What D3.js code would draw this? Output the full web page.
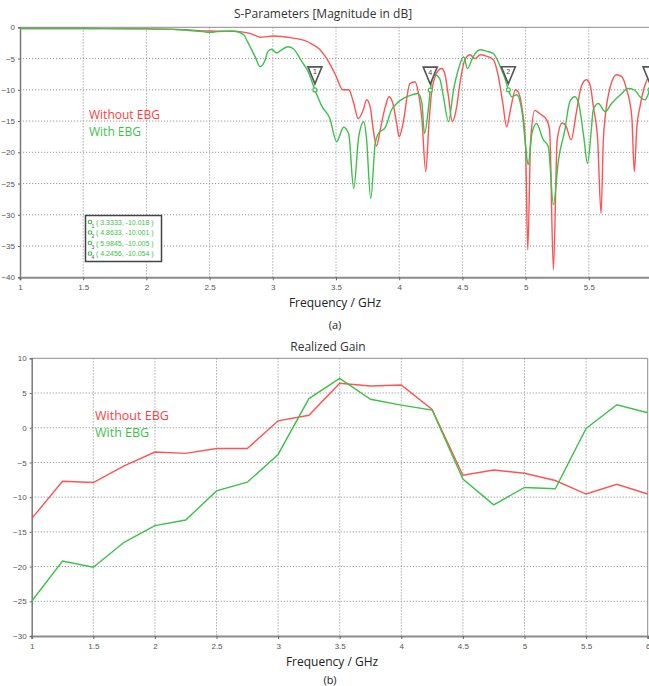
<!DOCTYPE html>
<html>
<head>
<meta charset="utf-8">
<script src="https://cdn.jsdelivr.net/npm/d3@7"></script>
<style>
  body { margin: 0; background: #fff; }
  svg { display: block; }
</style>
</head>
<body>
<div class="vis-area"></div>
<script>
var width = 649;
var height = 686;

var redColor = '#ff4040';
var greenColor = '#3cc24a';

// S-parameters, without EBG
var sFreqWithout = [1.0, 1.5, 2.0, 2.3, 2.5, 2.7, 2.8, 2.85, 2.9, 2.95, 3.0, 3.15, 3.25, 3.32, 3.37, 3.41, 3.45, 3.5,
  3.555, 3.6, 3.637, 3.676, 3.716, 3.742, 3.77, 3.795, 3.82, 3.85, 3.89, 3.92, 3.95, 3.98, 4.0, 4.03, 4.085, 4.125,
  4.15, 4.18, 4.21, 4.235, 4.255, 4.295, 4.335, 4.36, 4.39, 4.42, 4.455, 4.48, 4.52, 4.56, 4.6, 4.64, 4.69, 4.745,
  4.78, 4.82, 4.85, 4.88, 4.92, 4.94, 4.97, 5.0, 5.017, 5.04, 5.074, 5.11, 5.167, 5.19, 5.22, 5.25, 5.29, 5.32,
  5.36, 5.4, 5.44, 5.48, 5.51, 5.536, 5.57, 5.597, 5.615, 5.63, 5.67, 5.72, 5.76, 5.8, 5.84, 5.86, 5.88, 5.905,
  5.945, 5.98, 6.0];
var sDbWithout = [-0.2, -0.2, -0.25, -0.4, -0.6, -0.65, -0.9, -1.2, -1.6, -1.5, -1.4, -1.7, -2.1, -2.8, -3.5, -4.5, -5.8, -7.8,
  -10.0, -10.0, -11.9, -14.6, -13.2, -11.6, -12.7, -16.4, -19.0, -16.4, -12.7, -11.1, -12.2, -15.4, -17.5, -15.4, -9.0, -8.7,
  -10.3, -14.8, -23.1, -15.5, -10.6, -7.4, -6.6, -7.4, -11.1, -15.1, -12.7, -9.0, -5.2, -4.4, -5.0, -4.4, -4.6, -5.2,
  -7.4, -12.2, -15.9, -13.2, -10.0, -10.3, -12.7, -19.1, -35.6, -18.0, -13.3, -13.8, -14.8, -16.4, -38.8, -18.0, -15.3, -15.8,
  -18.0, -13.8, -9.5, -8.4, -9.2, -12.7, -18.0, -29.8, -18.0, -14.3, -9.5, -7.6, -7.9, -10.0, -14.3, -23.1, -16.0, -12.7,
  -9.2, -7.8, -7.5];

// S-parameters, with EBG
var sFreqWith = [1.0, 1.5, 2.0, 2.27, 2.45, 2.5, 2.56, 2.69, 2.77, 2.8, 2.86, 2.9, 2.94, 2.96, 2.99, 3.03, 3.07, 3.12,
  3.16, 3.23, 3.28, 3.3333, 3.39, 3.45, 3.505, 3.56, 3.6, 3.64, 3.68, 3.72, 3.74, 3.775, 3.81, 3.835, 3.89, 3.94,
  3.98, 4.03, 4.1, 4.15, 4.18, 4.2, 4.23, 4.2456, 4.28, 4.32, 4.35, 4.39, 4.43, 4.47, 4.51, 4.54, 4.585, 4.64,
  4.69, 4.745, 4.8, 4.84, 4.8633, 4.89, 4.93, 4.956, 4.98, 5.0, 5.02, 5.05, 5.086, 5.14, 5.18, 5.22, 5.26, 5.31,
  5.35, 5.39, 5.42, 5.46, 5.49, 5.52, 5.535, 5.575, 5.63, 5.68, 5.75, 5.81, 5.86, 5.905, 5.945, 5.9845, 6.0];
var sDbWith = [-0.2, -0.2, -0.25, -0.4, -0.7, -0.8, -0.7, -0.6, -1.2, -2.3, -4.7, -6.3, -5.2, -3.9, -3.5, -4.1, -3.6, -3.1,
  -3.4, -5.5, -7.1, -10.0, -12.7, -14.5, -18.3, -16.0, -17.0, -25.8, -17.5, -15.1, -17.5, -27.4, -18.6, -17.0, -16.0, -13.2,
  -12.2, -11.4, -10.8, -10.6, -12.2, -17.0, -13.2, -10.05, -7.6, -8.2, -11.1, -15.1, -10.0, -6.6, -4.7, -6.6, -4.7, -3.6,
  -3.8, -4.2, -6.3, -8.4, -10.0, -11.1, -10.8, -11.9, -14.8, -19.0, -22.0, -17.0, -15.4, -18.0, -19.1, -28.4, -21.2, -16.5,
  -11.9, -11.1, -12.2, -17.5, -21.8, -16.4, -13.2, -12.2, -13.5, -12.2, -10.8, -9.8, -10.0, -11.1, -11.6, -10.0, -9.5];

// markers on the with-EBG curve
var markerIds = [1, 2, 3, 4];
var markerFreq = [3.3333, 4.8633, 5.9845, 4.2456];
var markerDb = [-10.018, -10.001, -10.005, -10.054];

// Realized gain
var gainFreq = [1.0, 1.25, 1.5, 1.75, 2.0, 2.25, 2.5, 2.75, 3.0, 3.25, 3.5, 3.75, 4.0, 4.25, 4.5, 4.75, 5.0, 5.25, 5.5, 5.75, 6.0];
var gainWithout = [-13.1, -7.7, -7.9, -5.5, -3.5, -3.7, -3.0, -3.0, 1.0, 1.8, 6.4, 6.0, 6.15, 2.65, -6.85, -6.1, -6.55, -7.6, -9.55, -8.15, -9.55];
var gainWith = [-25.0, -19.2, -20.1, -16.5, -14.1, -13.3, -9.1, -7.85, -3.85, 4.2, 7.1, 4.1, 3.25, 2.55, -7.4, -11.1, -8.6, -8.8, -0.1, 3.3, 2.15];

var sTicksX = [1, 1.5, 2, 2.5, 3, 3.5, 4, 4.5, 5, 5.5];
var gainTicksX = [1, 1.5, 2, 2.5, 3, 3.5, 4, 4.5, 5, 5.5, 6];
var sTicksY = [0, -5, -10, -15, -20, -25, -30, -35, -40];
var gainTicksY = [10, 5, 0, -5, -10, -15, -20, -25, -30];

var svg = d3.select('.vis-area')
  .append('svg')
  .attr('width', width)
  .attr('height', height);

function drawFrame(g, x, y, xTicks, yTicks, box, id) {
  var x0 = x.range()[0], x1 = Math.min(x.range()[1], width);
  var y0 = y.range()[1], y1 = y.range()[0];

  // dotted grid
  g.append('g').selectAll('line.vgrid')
    .data(xTicks.filter(d => d > 1 && x(d) < width - 2))
    .enter().append('line')
    .attr('x1', d => x(d)).attr('x2', d => x(d))
    .attr('y1', y0).attr('y2', y1)
    .attr('stroke', '#9a9a9a').attr('stroke-width', 1).attr('stroke-dasharray', '1.2,1.8');
  g.append('g').selectAll('line.hgrid')
    .data(yTicks.filter(d => d !== y.domain()[0] && d !== y.domain()[1]))
    .enter().append('line')
    .attr('x1', x0).attr('x2', x1)
    .attr('y1', d => y(d)).attr('y2', d => y(d))
    .attr('stroke', '#9a9a9a').attr('stroke-width', 1).attr('stroke-dasharray', '1.2,1.8');

  // frame
  g.append('line').attr('x1', x0).attr('x2', x1).attr('y1', y0).attr('y2', y0)
    .attr('stroke', '#8c8c8c').attr('stroke-width', 1);
  if (box) {
    g.append('line').attr('x1', x.range()[1]).attr('x2', x.range()[1]).attr('y1', y0).attr('y2', y1)
      .attr('stroke', '#8c8c8c').attr('stroke-width', 1);
  }

  var xAxis = d3.axisBottom(x).tickValues(xTicks).tickSize(3).tickFormat(d3.format('~g'));
  var gx = g.append('g').attr('transform', `translate(0,${y1})`).call(xAxis);
  gx.select('.domain').attr('stroke', '#8c8c8c').attr('stroke-width', 2);
  gx.selectAll('.tick line').attr('stroke', '#666');
  gx.selectAll('.tick text').attr('fill', '#555').attr('font-size', 8)
    .attr('font-family', 'Liberation Sans, Arial, sans-serif').attr('dy', '0.9em');

  var yAxis = d3.axisLeft(y).tickValues(yTicks).tickSize(2).tickFormat(d3.format('d'));
  var gy = g.append('g').attr('transform', `translate(${x0},0)`).call(yAxis);
  gy.select('.domain').attr('stroke', '#7a7a7a').attr('stroke-width', 1.5);
  gy.selectAll('.tick line').attr('stroke', '#666');
  gy.selectAll('.tick text').attr('fill', '#555').attr('font-size', 8)
    .attr('font-family', 'Liberation Sans, Arial, sans-serif');

  g.append('clipPath').attr('id', id)
    .append('rect').attr('x', x0).attr('y', y0 - 1).attr('width', x.range()[1] - x0).attr('height', y1 - y0 + 1);
}

function addText(txt, x, y, size, color) {
  return svg.append('text')
    .attr('x', x).attr('y', y)
    .attr('text-anchor', 'middle')
    .attr('font-family', 'Open Sans, sans-serif')
    .attr('font-size', size)
    .attr('fill', color)
    .text(txt);
}

// ---------- (a) S-parameters ----------
var xS = d3.scaleLinear().domain([1, 6]).range([20, 652]);
var yS = d3.scaleLinear().domain([-40, 0]).range([277.3, 27.3]);
var gS = svg.append('g');
drawFrame(gS, xS, yS, sTicksX, sTicksY, false, 'clipS');

var lineS = d3.line().curve(d3.curveMonotoneX);
var ptsWithout = sFreqWithout.map((f, i) => [xS(f), yS(sDbWithout[i])]);
var ptsWith = sFreqWith.map((f, i) => [xS(f), yS(sDbWith[i])]);

gS.append('path').attr('d', lineS(ptsWithout)).attr('clip-path', 'url(#clipS)')
  .attr('fill', 'none').attr('stroke', redColor).attr('stroke-width', 1.4).attr('stroke-opacity', 0.9);
gS.append('path').attr('d', lineS(ptsWith)).attr('clip-path', 'url(#clipS)')
  .attr('fill', 'none').attr('stroke', greenColor).attr('stroke-width', 1.4);

// marker triangles
markerIds.forEach((id, i) => {
  var px = xS(markerFreq[i]), py = yS(markerDb[i]);
  var m = gS.append('g');
  m.append('path')
    .attr('d', `M${px - 7},${py - 23} L${px + 7},${py - 23} L${px},${py - 6} Z`)
    .attr('fill', '#fff').attr('stroke', '#555').attr('stroke-width', 1.6);
  if (px < width - 4) {
    m.append('text').attr('x', px).attr('y', py - 15.5).attr('text-anchor', 'middle')
      .attr('font-size', 7).attr('font-family', 'Liberation Sans, Arial, sans-serif').attr('fill', '#444').text(id);
  }
  m.append('circle').attr('cx', px).attr('cy', py).attr('r', 2)
    .attr('fill', '#fff').attr('stroke', greenColor).attr('stroke-width', 1.2);
});

// marker readout box
var box = gS.append('g');
box.append('rect').attr('x', 85.5).attr('y', 215.5).attr('width', 76).attr('height', 46)
  .attr('fill', '#fff').attr('stroke', '#444').attr('stroke-width', 1.5);
markerIds.forEach((id, i) => {
  var ry = 222 + i * 10.5;
  box.append('circle').attr('cx', 90).attr('cy', ry).attr('r', 1.8)
    .attr('fill', 'none').attr('stroke', greenColor).attr('stroke-width', 1.1);
  box.append('text').attr('x', 91.5).attr('y', ry + 5.5).attr('font-size', 5)
    .attr('font-family', 'Liberation Sans, Arial, sans-serif').attr('fill', '#555').text(id);
  box.append('text').attr('x', 96).attr('y', ry + 2.5).attr('font-size', 7)
    .attr('font-family', 'Liberation Sans, Arial, sans-serif').attr('fill', greenColor)
    .text(`( ${markerFreq[i]}, ${markerDb[i]} )`);
});

addText('S-Parameters [Magnitude in dB]', 323, 17.5, 12, '#333');
addText('Frequency / GHz', 335, 307, 12, '#222');
addText('(a)', 335, 329, 11, '#222');
svg.append('text').attr('x', 89).attr('y', 119).attr('font-family', 'Open Sans, sans-serif')
  .attr('font-size', 12).attr('fill', redColor).text('Without EBG');
svg.append('text').attr('x', 89).attr('y', 136).attr('font-family', 'Open Sans, sans-serif')
  .attr('font-size', 12).attr('fill', greenColor).text('With EBG');

// ---------- (b) Realized gain ----------
var xG = d3.scaleLinear().domain([1, 6]).range([31.7, 647.7]);
var yG = d3.scaleLinear().domain([-30, 10]).range([636, 358.3]);
var gG = svg.append('g');
drawFrame(gG, xG, yG, gainTicksX, gainTicksY, true, 'clipG');

var lineG = d3.line().x((d, i) => xG(gainFreq[i])).y(d => yG(d));
gG.append('path').datum(gainWithout).attr('d', lineG).attr('clip-path', 'url(#clipG)')
  .attr('fill', 'none').attr('stroke', redColor).attr('stroke-width', 1.4).attr('stroke-opacity', 0.9);
gG.append('path').datum(gainWith).attr('d', lineG).attr('clip-path', 'url(#clipG)')
  .attr('fill', 'none').attr('stroke', greenColor).attr('stroke-width', 1.4);

addText('Realized Gain', 328, 351, 12, '#333');
addText('Frequency / GHz', 332, 666, 12, '#222');
addText('(b)', 330, 684, 11, '#222');
svg.append('text').attr('x', 95).attr('y', 420).attr('font-family', 'Open Sans, sans-serif')
  .attr('font-size', 12.5).attr('fill', redColor).text('Without EBG');
svg.append('text').attr('x', 95).attr('y', 437).attr('font-family', 'Open Sans, sans-serif')
  .attr('font-size', 12.5).attr('fill', greenColor).text('With EBG');
</script>
</body>
</html>
